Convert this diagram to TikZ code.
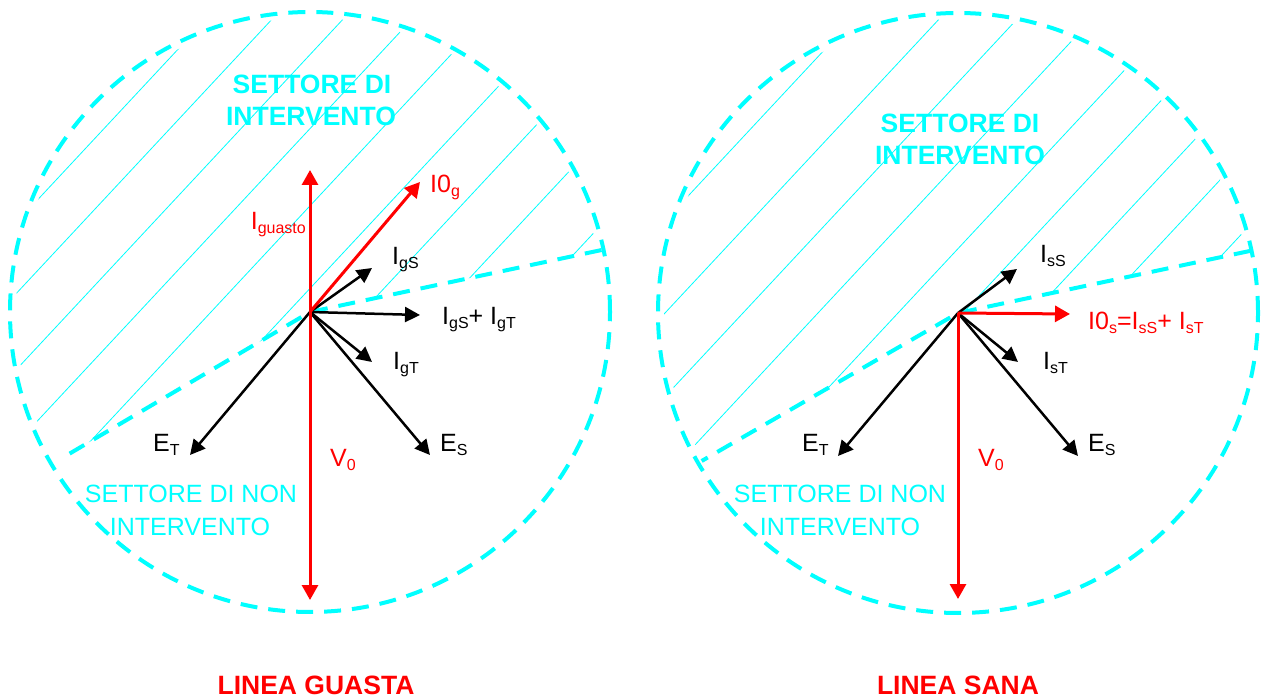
\documentclass[tikz,border=0pt]{standalone}
\usepackage{fontspec}
\setmainfont{Liberation Sans}
\usetikzlibrary{arrows.meta}
\definecolor{aqua}{RGB}{0,255,255}
\definecolor{vred}{RGB}{255,0,0}

\tikzset{
  vec/.style={-{Triangle[length=15pt,width=15pt]}, line width=2.5pt, black},
  redvec/.style={-{Triangle[length=15pt,width=16pt]}, line width=3pt, vred},
  border/.style={aqua, line width=4pt, dash pattern=on 17pt off 11pt},
  hatch/.style={aqua, line width=0.8pt},
  lbl/.style={inner sep=0pt, anchor=base west, font=\fontsize{25}{30}\selectfont},
  sectortxt/.style={aqua, inner sep=0pt, anchor=base, font=\fontsize{25}{30}\selectfont},
  sectorbold/.style={aqua, inner sep=0pt, anchor=base, font=\bfseries\fontsize{26.5}{30}\selectfont},
  titletxt/.style={vred, inner sep=0pt, anchor=base, font=\bfseries\fontsize{26.5}{30}\selectfont}
}
\newcommand{\lowsub}[1]{\raisebox{-4pt}{\fontsize{16}{16}\selectfont #1}}

\begin{document}
\begin{tikzpicture}[x=1pt, y=1pt]
    \useasboundingbox (0,0) rectangle (1263,699);

    % 1. Centres of the two diagrams
    \coordinate (gO) at (310,387);
    \coordinate (sO) at (958,386);

    % 2. Hatching of the intervention sector (faulty line)
    \begin{scope}
        \clip (gO) -- ++(12:294) arc[start angle=12, end angle=210.5, radius=294] -- cycle;
        \foreach \h in {-377,-311,-240,-171,-99,-22,52,128,210} {
            \draw[hatch] (gO) ++(\h,0) ++(227:420) -- ++(47:840);
        }
    \end{scope}

    % 3. Hatching of the intervention sector (healthy line)
    \begin{scope}
        \clip (sO) -- ++(12:294) arc[start angle=12, end angle=210, radius=294] -- cycle;
        \foreach \h in {-379,-293,-215,-140,-60,5,75,138,210} {
            \draw[hatch] (sO) ++(\h,0) ++(227:420) -- ++(47:840);
        }
    \end{scope}

    % 4. Dashed circles and sector borders
    \draw[border] (gO) circle[radius=300];
    \draw[border] (sO) circle[radius=300];
    \coordinate (gB1) at ([shift={(12:298)}]gO);
    \coordinate (gB2) at ([shift={(210.5:288)}]gO);
    \coordinate (sB1) at ([shift={(12:299)}]sO);
    \coordinate (sB2) at ([shift={(210:296)}]sO);
    \draw[border] (gB1) -- (gO) -- (gB2);
    \draw[border] (sB1) -- (sO) -- (sB2);

    % 5. Vectors of the faulty line
    \coordinate (gIg)  at ([shift={(0,142)}]gO);
    \coordinate (gI0)  at ([shift={(110,130)}]gO);
    \coordinate (gIgS) at ([shift={(62,44)}]gO);
    \coordinate (gSum) at ([shift={(110,-3)}]gO);
    \coordinate (gIgT) at ([shift={(62,-50)}]gO);
    \coordinate (gES)  at ([shift={(120,-143)}]gO);
    \coordinate (gET)  at ([shift={(-120,-143)}]gO);
    \coordinate (gV0)  at ([shift={(0,-288)}]gO);
    \foreach \t in {gIgS, gSum, gIgT, gES, gET} {
        \draw[vec] (gO) -- (\t);
    }
    \foreach \t in {gIg, gI0, gV0} {
        \draw[redvec] (gO) -- (\t);
    }

    % 6. Vectors of the healthy line
    \coordinate (sIsS) at ([shift={(59,44)}]sO);
    \coordinate (sI0)  at ([shift={(112,-1)}]sO);
    \coordinate (sIsT) at ([shift={(60,-49)}]sO);
    \coordinate (sES)  at ([shift={(120,-143)}]sO);
    \coordinate (sET)  at ([shift={(-120,-143)}]sO);
    \coordinate (sV0)  at ([shift={(0,-286)}]sO);
    \foreach \t in {sIsS, sIsT, sES, sET} {
        \draw[vec] (sO) -- (\t);
    }
    \foreach \t in {sI0, sV0} {
        \draw[redvec] (sO) -- (\t);
    }

    % 7. Labels of the faulty line
    \node (gLIg)  [lbl, vred, anchor=base east] at ([shift={(-4,82)}]gO) {I\lowsub{guasto}};
    \node (gLI0)  [lbl, vred] at ([shift={(120,119)}]gO) {I0\lowsub{g}};
    \node (gLIgS) [lbl] at ([shift={(82,47)}]gO) {I\lowsub{gS}};
    \node (gLSum) [lbl] at ([shift={(132,-13)}]gO) {I\lowsub{gS}+ I\lowsub{gT}};
    \node (gLIgT) [lbl] at ([shift={(83,-58)}]gO) {I\lowsub{gT}};
    \node (gLES)  [lbl] at ([shift={(130,-140)}]gO) {E\lowsub{S}};
    \node (gLET)  [lbl] at ([shift={(-157,-140)}]gO) {E\lowsub{T}};
    \node (gLV0)  [lbl, vred] at ([shift={(20,-155)}]gO) {V\lowsub{0}};
    \node (gSec1) [sectorbold] at ([shift={(2,218)}]gO) {SETTORE DI};
    \node (gSec2) [sectorbold] at ([shift={(1,186)}]gO) {INTERVENTO};
    \node (gNon1) [sectortxt] at ([shift={(-119,-191)}]gO) {SETTORE DI NON};
    \node (gNon2) [sectortxt] at ([shift={(-120,-223)}]gO) {INTERVENTO};
    \node (gTitle) [titletxt] at ([shift={(6,-382)}]gO) {LINEA GUASTA};

    % 8. Labels of the healthy line
    \node (sLIsS) [lbl] at ([shift={(82,50)}]sO) {I\lowsub{sS}};
    \node (sLI0)  [lbl, vred] at ([shift={(130,-17)}]sO) {I0\lowsub{s}=I\lowsub{sS}+ I\lowsub{sT}};
    \node (sLIsT) [lbl] at ([shift={(85,-57)}]sO) {I\lowsub{sT}};
    \node (sLES)  [lbl] at ([shift={(130,-139)}]sO) {E\lowsub{S}};
    \node (sLET)  [lbl] at ([shift={(-156,-139)}]sO) {E\lowsub{T}};
    \node (sLV0)  [lbl, vred] at ([shift={(20,-154)}]sO) {V\lowsub{0}};
    \node (sSec1) [sectorbold] at ([shift={(2,180)}]sO) {SETTORE DI};
    \node (sSec2) [sectorbold] at ([shift={(2,148)}]sO) {INTERVENTO};
    \node (sNon1) [sectortxt] at ([shift={(-118,-190)}]sO) {SETTORE DI NON};
    \node (sNon2) [sectortxt] at ([shift={(-118,-222)}]sO) {INTERVENTO};
    \node (sTitle) [titletxt] at ([shift={(0,-381)}]sO) {LINEA SANA};

\end{tikzpicture}
\end{document}
